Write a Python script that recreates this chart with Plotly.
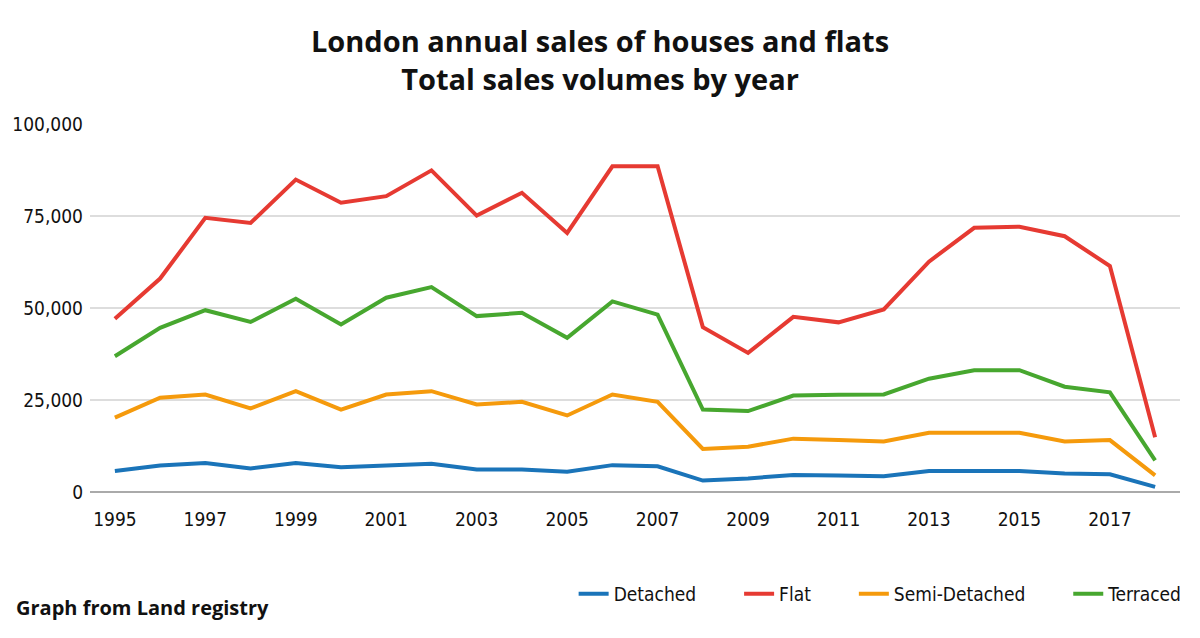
import plotly.graph_objects as go

years = list(range(1995, 2019))
detached = [5.7, 7.2, 7.9, 6.4, 7.9, 6.7, 7.2, 7.7, 6.1, 6.1, 5.5, 7.3, 7.0,
            3.1, 3.7, 4.6, 4.5, 4.3, 5.7, 5.7, 5.7, 5.0, 4.8, 1.4]
flat = [47.1, 58.0, 74.5, 73.1, 84.9, 78.6, 80.4, 87.4, 75.1, 81.3, 70.4, 88.5, 88.5,
        44.8, 37.8, 47.6, 46.1, 49.6, 62.6, 71.8, 72.1, 69.5, 61.4, 14.9]
semi = [20.2, 25.6, 26.5, 22.7, 27.4, 22.4, 26.5, 27.4, 23.8, 24.5, 20.8, 26.5, 24.5,
        11.7, 12.3, 14.5, 14.1, 13.7, 16.1, 16.1, 16.1, 13.7, 14.1, 4.5]
terraced = [36.9, 44.6, 49.4, 46.2, 52.5, 45.5, 52.8, 55.7, 47.8, 48.7, 41.9, 51.8, 48.2,
            22.4, 22.0, 26.2, 26.4, 26.5, 30.8, 33.1, 33.1, 28.6, 27.1, 8.6]

series = [
    ("Detached", detached, "#1a74b9"),
    ("Flat", flat, "#e63a32"),
    ("Semi-Detached", semi, "#f59a0c"),
    ("Terraced", terraced, "#47a72f"),
]

y_ticks = [0, 25000, 50000, 75000, 100000]
y_tick_labels = ["0", "25,000", "50,000", "75,000", "100,000"]
x_ticks = list(range(1995, 2019, 2))

FONT = "DejaVu Sans Condensed, DejaVu Sans, sans-serif"
BOLD = "Open Sans, sans-serif"
PAD = "\u00a0" * 7

fig = go.Figure()
for i, (name, vals, color) in enumerate(series):
    label = name + (PAD if i < len(series) - 1 else "")
    fig.add_trace(go.Scatter(
        x=years, y=[v * 1000 for v in vals], mode="lines", name=label,
        line=dict(color=color, width=4),
    ))

fig.update_layout(
    width=1200, height=638,
    paper_bgcolor="white", plot_bgcolor="white",
    margin=dict(l=86, r=19, t=124, b=146),
    font=dict(family=FONT, color="#111111", size=19),
    title=dict(
        text="<b>London annual sales of houses and flats<br>Total sales volumes by year</b>",
        x=0.5, xanchor="center", y=0.918, yanchor="top",
        font=dict(family=BOLD, size=29, color="#111111"),
    ),
    xaxis=dict(
        range=[1994.45, 2018.55], tickmode="array", tickvals=x_ticks,
        showgrid=False, zeroline=False, showline=False,
        tickfont=dict(size=19), ticks="", ticklabelstandoff=14,
    ),
    yaxis=dict(
        range=[0, 100000], tickmode="array", tickvals=y_ticks, ticktext=y_tick_labels,
        showgrid=True, gridcolor="#dddddd", gridwidth=2,
        zeroline=True, zerolinecolor="#aaaaaa", zerolinewidth=2,
        showline=False, tickfont=dict(size=19), ticks="", ticklabelstandoff=6,
    ),
    legend=dict(
        orientation="h", x=1.007, xanchor="right", y=-0.277, yanchor="middle",
        font=dict(size=19), bgcolor="rgba(0,0,0,0)",
    ),
    showlegend=True,
    annotations=[dict(
        text="<b>Graph from Land registry</b>", xref="paper", yref="paper",
        x=-0.0694, y=-0.3125, xanchor="left", yanchor="middle", showarrow=False,
        font=dict(family=BOLD, size=20, color="#111111"),
    )],
)

fig.write_html("out.html", config={"displayModeBar": False},
               post_script="document.body.style.margin='0';")
